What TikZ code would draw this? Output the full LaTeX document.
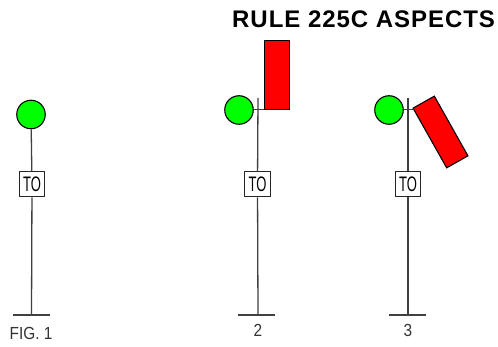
\documentclass[tikz,border=0pt]{standalone}
\usepackage{fontspec}
\setmainfont{Liberation Sans}
\newcommand{\platetext}{\scalebox{.62}[1]{TO}}
\begin{document}
\begin{tikzpicture}[x=1pt,y=-1pt,
  lamp/.style={circle,draw=black,fill=green,line width=1.1pt,minimum size=28.5pt,inner sep=0pt},
  blade/.style={rectangle,draw=black,fill=red,line width=1.1pt,minimum width=25pt,minimum height=69pt,inner sep=0pt,outer sep=0pt},
  plate/.style={rectangle,draw=black!85,fill=white,line width=1pt,minimum width=25.5pt,minimum height=25pt,inner sep=0pt,font=\fontsize{21}{21}\selectfont},
  pole/.style={draw=black!75,line width=1.3pt},
  lab/.style={inner sep=0pt,text=black!80,font=\fontsize{17.5}{18}\selectfont,anchor=base}]
\useasboundingbox (0,0) rectangle (498,347);
% Fig 1
\coordinate (b1) at (31.5,315);
\coordinate (bl1) at (13,315);
\coordinate (br1) at (50,315);
\node[lamp] (l1) at (31,114.5) {};
\node[plate] (t1) at (32,184.5) {\platetext};
\draw[pole] (l1) -- (t1);
\draw[pole] (t1) -- (b1);
\draw[pole] (bl1) -- (br1);
\node[lab] (c1) at (31,339) {\scalebox{.88}[1]{FIG. 1}};
% Fig 2
\coordinate (top2) at (258,98);
\coordinate (b2) at (258,315);
\coordinate (bl2) at (238,315);
\coordinate (br2) at (275,315);
\coordinate (arm2) at (264.4,109.3);
\node[lamp] (l2) at (239,110) {};
\node[blade,anchor=south west] (r2) at (264.4,109.5) {};
\node[plate] (t2) at (257.5,184.5) {\platetext};
\draw[pole] (top2) -- (t2);
\draw[pole] (t2) -- (b2);
\draw[pole] (bl2) -- (br2);
\draw[pole] (l2.east |- arm2) -- (arm2);
\node[lab] (c2) at (258,337) {\scalebox{.88}[1]{2}};
% Fig 3
\coordinate (top3) at (408,98);
\coordinate (b3) at (408,315);
\coordinate (bl3) at (389,315);
\coordinate (br3) at (426,315);
\coordinate (arm3) at (413.5,109.3);
\node[lamp] (l3) at (389,110) {};
\node[blade,rotate=29.4,minimum width=24.4pt,minimum height=68.5pt] (r3) at (440.5,132) {};
\node[plate] (t3) at (408,184.5) {\platetext};
\draw[pole] (top3) -- (t3);
\draw[pole] (t3) -- (b3);
\draw[pole] (bl3) -- (br3);
\draw[pole] (l3.east |- arm3) -- (arm3);
\node[lab] (c3) at (408,337) {\scalebox{.88}[1]{3}};
% Title
\node[inner sep=0pt,anchor=base west,font=\fontsize{24}{24}\bfseries\selectfont] (title) at (232,28) {\addfontfeature{LetterSpace=4}RULE 225C ASPECTS};
\end{tikzpicture}
\end{document}
